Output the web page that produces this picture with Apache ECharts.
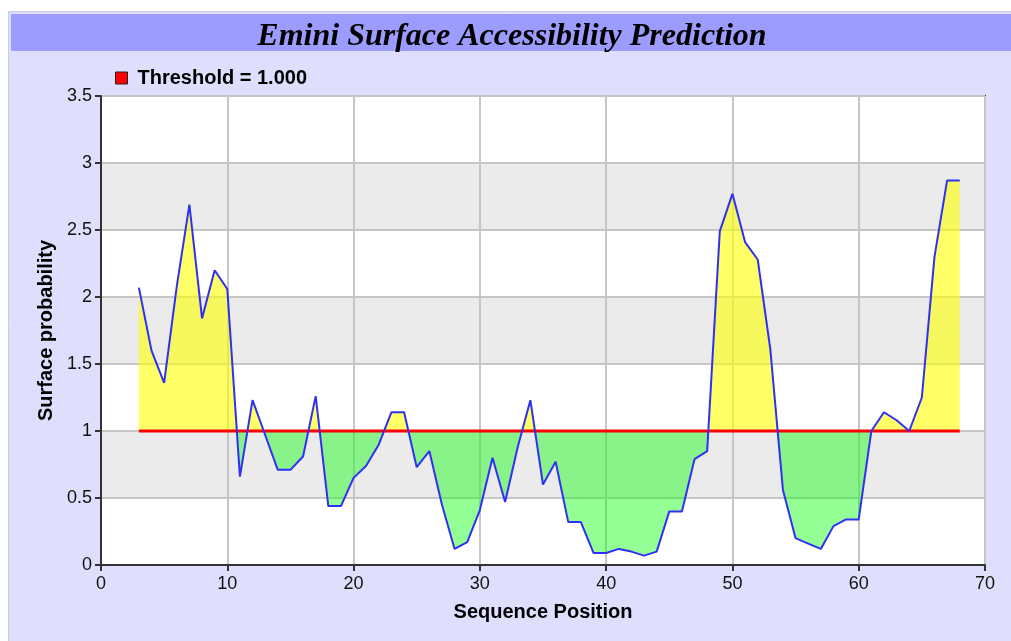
<!DOCTYPE html>
<html>
<head>
<meta charset="utf-8">
<title>Emini Surface Accessibility Prediction</title>
<script src="https://cdn.jsdelivr.net/npm/echarts@6/dist/echarts.min.js"></script>
<style>
  html, body { margin: 0; padding: 0; background: #ffffff; }
  #chart { width: 1011px; height: 641px; }
</style>
</head>
<body>
<div id="chart"></div>
<script>
// Sequence positions (residue index) and Emini surface probability scores
const positions = [
  3, 4, 5, 6, 7, 8, 9, 10, 11, 12, 13, 14, 15, 16, 17, 18, 19, 20, 21, 22,
  23, 24, 25, 26, 27, 28, 29, 30, 31, 32, 33, 34, 35, 36, 37, 38, 39, 40, 41, 42,
  43, 44, 45, 46, 47, 48, 49, 50, 51, 52, 53, 54, 55, 56, 57, 58, 59, 60, 61, 62,
  63, 64, 65, 66, 67, 68
];
const scores = [
  2.07, 1.60, 1.36, 2.08, 2.69, 1.84, 2.20, 2.06, 0.66, 1.23, 0.97, 0.71, 0.71, 0.81, 1.26, 0.44, 0.44, 0.65, 0.74, 0.90,
  1.14, 1.14, 0.73, 0.85, 0.45, 0.12, 0.17, 0.41, 0.80, 0.47, 0.88, 1.23, 0.60, 0.77, 0.32, 0.32, 0.09, 0.09, 0.12, 0.10,
  0.07, 0.10, 0.40, 0.40, 0.79, 0.85, 2.49, 2.77, 2.41, 2.28, 1.61, 0.56, 0.20, 0.16, 0.12, 0.29, 0.34, 0.34, 1.00, 1.14,
  1.08, 1.00, 1.25, 2.30, 2.87, 2.87
];
const threshold = 1.0;
const thresholdLabel = 'Threshold = 1.000';

const xTicks = { min: 0, max: 70, step: 10 };
const yTicks = { min: 0, max: 3.5, step: 0.5 };

const points = positions.map((p, i) => [p, scores[i]]);
const thresholdLine = [[positions[0], threshold], [positions[positions.length - 1], threshold]];

const chart = echarts.init(document.getElementById('chart'), null, { renderer: 'canvas' });

const sansFont = '"Liberation Sans", Arial, Helvetica, sans-serif';

chart.setOption({
  animation: false,
  backgroundColor: '#ffffff',
  graphic: [
    {
      type: 'rect', z: -10, silent: true,
      shape: { x: 8.5, y: 11.5, width: 1010, height: 640 },
      style: { fill: '#dfdffd', stroke: '#c9c9f3', lineWidth: 1 }
    },
    {
      type: 'rect', z: -9, silent: true,
      shape: { x: 11, y: 14, width: 1000, height: 37 },
      style: { fill: '#9c9cff' }
    }
  ],
  title: {
    text: 'Emini Surface Accessibility Prediction',
    left: 512, top: 21, textAlign: 'center',
    padding: 0,
    textStyle: {
      fontFamily: '"Liberation Serif", "Times New Roman", serif',
      fontStyle: 'italic', fontWeight: 'bold', fontSize: 32, color: '#000000'
    }
  },
  legend: {
    left: 115, top: 68, padding: 0,
    itemWidth: 12, itemHeight: 12, itemGap: 6,
    icon: 'rect',
    data: [{ name: thresholdLabel, itemStyle: { color: '#ff0000', borderColor: '#222222', borderWidth: 1 } }],
    textStyle: { fontFamily: sansFont, fontWeight: 'bold', fontSize: 20, color: '#000000', padding: [0, 0, 0, 5] },
    selectedMode: false
  },
  grid: {
    left: 101, right: 26, top: 96, bottom: 76,
    show: true, borderColor: '#333333', borderWidth: 2, backgroundColor: 'transparent'
  },
  xAxis: {
    type: 'value', min: xTicks.min, max: xTicks.max, interval: xTicks.step,
    name: 'Sequence Position', nameLocation: 'middle', nameGap: 37,
    nameTextStyle: { fontFamily: sansFont, fontWeight: 'bold', fontSize: 20, color: '#000000' },
    axisLine: { show: true, lineStyle: { color: '#333333', width: 2 } },
    axisTick: { show: true, inside: false, length: 6, lineStyle: { color: '#333333', width: 2 } },
    axisLabel: { fontFamily: sansFont, fontSize: 18, color: '#111111', margin: 10 },
    splitLine: { show: true, lineStyle: { color: '#c6c6c6', width: 2 } }
  },
  yAxis: {
    type: 'value', min: yTicks.min, max: yTicks.max, interval: yTicks.step,
    name: 'Surface probability', nameLocation: 'middle', nameGap: 44, nameRotate: 90,
    nameTextStyle: { fontFamily: sansFont, fontWeight: 'bold', fontSize: 20, color: '#000000' },
    axisLine: { show: true, lineStyle: { color: '#333333', width: 2 } },
    axisTick: { show: true, inside: false, length: 6, lineStyle: { color: '#333333', width: 2 } },
    axisLabel: { fontFamily: sansFont, fontSize: 18, color: '#111111', margin: 9 },
    splitLine: { show: true, lineStyle: { color: '#c6c6c6', width: 2 } },
    splitArea: { show: true, areaStyle: { color: ['#ffffff', '#ebebeb'] } }
  },
  visualMap: {
    show: false,
    type: 'piecewise',
    seriesIndex: 0,
    dimension: 1,
    pieces: [
      { gt: threshold, lte: 100, color: 'rgba(255, 255, 0, 0.6)' },
      { gte: -100, lte: threshold, color: 'rgba(0, 255, 0, 0.42)' }
    ]
  },
  series: [
    {
      // fill between the score curve and the threshold
      name: 'fill',
      type: 'line',
      data: points,
      showSymbol: false,
      silent: true,
      lineStyle: { width: 0, opacity: 0 },
      areaStyle: { origin: threshold, opacity: 1 },
      z: 1
    },
    {
      name: thresholdLabel,
      type: 'line',
      data: thresholdLine,
      showSymbol: false,
      color: '#ff0000',
      lineStyle: { color: '#ff0000', width: 3 },
      z: 3
    },
    {
      name: 'Surface probability',
      type: 'line',
      data: points,
      showSymbol: false,
      color: '#3030f5',
      lineStyle: { color: '#3030f5', width: 2 },
      z: 4
    }
  ]
});
</script>
</body>
</html>
